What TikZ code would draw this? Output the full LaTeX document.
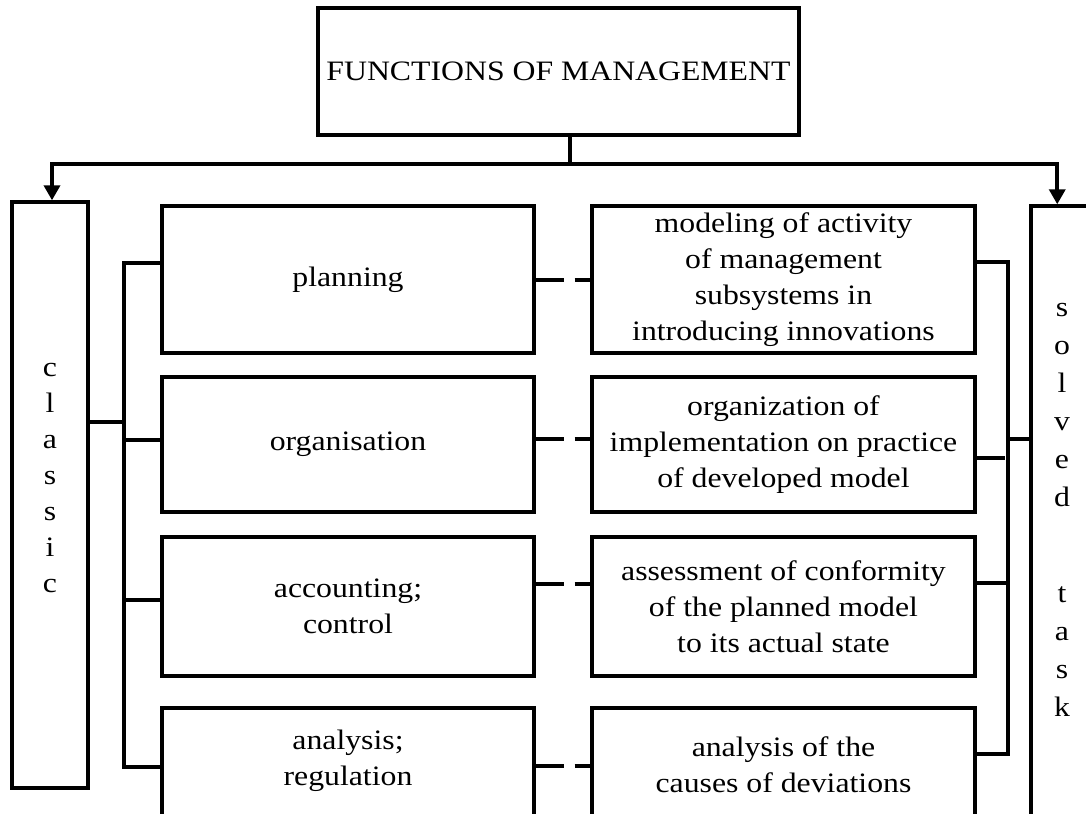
\documentclass[tikz,border=0pt]{standalone}
\usepackage{fontspec}
\setmainfont{Liberation Serif}[FakeStretch=1.13]
\usetikzlibrary{arrows.meta}
\tikzset{
  box/.style={draw, line width=2pt, inner sep=0pt, align=center},
  txt/.style={inner sep=0pt, align=center},
  wire/.style={line width=2pt},
  arr/.style={wire, -{Triangle[width=0.32cm,length=0.3cm]}},
  gap/.style={wire, dash pattern=on 0.56cm off 0.22cm},
}
\begin{document}
\begin{tikzpicture}[x=0.02cm, y=-0.02cm, font=\fontsize{16}{20.5}\selectfont]
  \useasboundingbox (0,0) rectangle (1086,814);
  \clip (0,0) rectangle (1086,814);

  \node [box, minimum width=9.62cm, minimum height=2.54cm] (fom) at (558.5, 71.5) {FUNCTIONS OF MANAGEMENT};

  \node [box, minimum width=1.52cm, minimum height=11.72cm] (classic) at (50, 495) {};
  \node [txt] (classictxt) at (50, 478) {c\\l\\a\\s\\s\\i\\c};
  \node [box, minimum width=2cm, minimum height=12.88cm] (solved) at (1081, 528) {};
  \node [txt, font=\fontsize{16}{21.6}\selectfont] (solvedtxt) at (1062, 510) {s\\o\\l\\v\\e\\d\\[33pt]t\\a\\s\\k};

  \node [box, minimum width=7.44cm, minimum height=2.94cm] (planning) at (348, 279.5) {planning};
  \node [box, minimum width=7.44cm, minimum height=2.7cm] (organisation) at (348, 444.5) {organisation};
  \node [box, minimum width=7.44cm, minimum height=2.78cm] (accounting) at (348, 606.5) {accounting;\\control};
  \node [box, minimum width=7.44cm, minimum height=2.84cm] (analysis) at (348, 779) {};
  \node [txt] (analysistxt) at (348, 761) {analysis;\\regulation};

  \node [box, minimum width=7.66cm, minimum height=2.94cm] (model) at (783.5, 279.5) {modeling of activity\\of management\\subsystems in\\introducing innovations};
  \node [box, minimum width=7.66cm, minimum height=2.7cm] (organiz) at (783.5, 444.5) {organization of\\implementation on practice\\of developed model};
  \node [box, minimum width=7.66cm, minimum height=2.78cm] (assess) at (783.5, 606.5) {assessment of conformity\\of the planned model\\to its actual state};
  \node [box, minimum width=7.66cm, minimum height=2.84cm] (causes) at (783.5, 779) {};
  \node [txt] (causestxt) at (783.5, 765) {analysis of the\\causes of deviations};

  \coordinate (split) at (570, 164);
  \draw [wire] (split |- fom.south) -- (split);
  \draw [arr] (split) -| ([xshift=0.04cm]classic.north);
  \draw [arr] (split) -| ([xshift=0.56cm]solved.north west);

  \coordinate (lbus) at (124, 422);
  \draw [wire] (classic.east |- lbus) -- (lbus);
  \draw [wire] (planning.west |- 0,263) -| (lbus) |- (analysis.west |- 0,767);
  \draw [wire] (organisation.west |- 0,440) -- (lbus |- 0,440);
  \draw [wire] (accounting.west |- 0,600) -- (lbus |- 0,600);

  \draw [gap] (planning.east |- 0,280) -- (model.west |- 0,280);
  \draw [gap] (organisation.east |- 0,439) -- (organiz.west |- 0,439);
  \draw [gap] (accounting.east |- 0,584) -- (assess.west |- 0,584);
  \draw [gap] (analysis.east |- 0,766) -- (causes.west |- 0,766);

  \coordinate (rbus) at (1008, 439);
  \draw [wire] (rbus) -- (solved.west |- rbus);
  \draw [wire] (model.east |- 0,262) -| (rbus) |- (causes.east |- 0,754);
  \draw [wire] (organiz.east |- 0,458) -- ++(28, 0);
  \draw [wire] (assess.east |- 0,583) -- (rbus |- 0,583);
\end{tikzpicture}
\end{document}
